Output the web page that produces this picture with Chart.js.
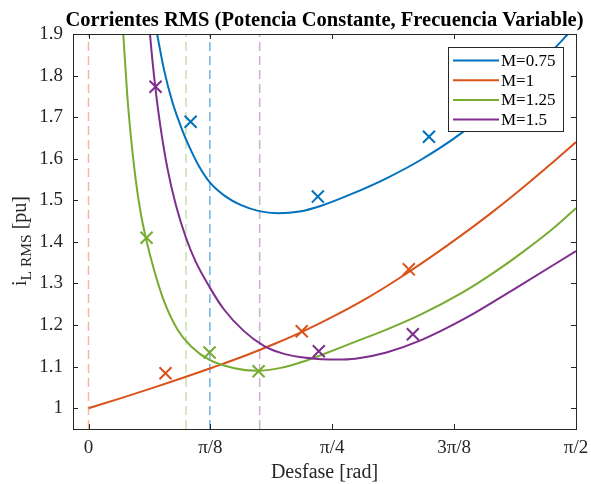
<!DOCTYPE html>
<html><head><meta charset="utf-8">
<script src="https://cdn.jsdelivr.net/npm/chart.js@4.4.0/dist/chart.umd.min.js"></script>
<style>html,body{margin:0;padding:0;background:#fff}</style>
</head><body>
<canvas id="c" width="591" height="484" style="width:591px;height:484px;display:block"></canvas>
<script>
// ---------- data ----------
const seriesLabels = ['M=0.75', 'M=1', 'M=1.25', 'M=1.5'];
const seriesColors = ['#0072BD', '#D95319', '#77AC30', '#7E2F8E'];

// curves (phase shift [rad], RMS current [pu])
const phiM075 = [0.221,0.243,0.270,0.302,0.334,0.356,0.391,0.44,0.49,0.55,0.61,0.68,0.75,0.85,0.96,1.07,1.206,1.30,1.40,1.506,1.545];
const iM075   = [1.900,1.815,1.737,1.669,1.614,1.582,1.543,1.510,1.489,1.474,1.469,1.473,1.487,1.516,1.553,1.597,1.664,1.723,1.792,1.869,1.900];

const phiM1 = [0,0.1,0.2,0.3,0.4,0.5,0.6,0.7,0.8,0.9,1.0,1.1,1.2,1.3,1.4,1.5,1.5708];
const iM1   = [1.000,1.023,1.047,1.072,1.098,1.125,1.155,1.188,1.225,1.266,1.312,1.362,1.415,1.471,1.531,1.594,1.640];

const phiM125 = [0.112,0.125,0.138,0.152,0.168,0.187,0.211,0.243,0.286,0.33,0.39,0.47,0.54,0.62,0.70,0.75,0.85,0.96,1.07,1.20,1.30,1.40,1.50,1.5708];
const iM125   = [1.900,1.751,1.642,1.550,1.470,1.402,1.333,1.258,1.190,1.149,1.116,1.096,1.090,1.097,1.114,1.128,1.157,1.189,1.225,1.276,1.323,1.376,1.434,1.481];

const phiM15 = [0.198,0.205,0.216,0.232,0.254,0.281,0.314,0.345,0.391,0.436,0.50,0.565,0.62,0.68,0.75,0.80,0.86,0.96,1.07,1.216,1.364,1.5708];
const iM15   = [1.900,1.843,1.767,1.676,1.578,1.490,1.410,1.353,1.290,1.238,1.186,1.150,1.133,1.123,1.118,1.117,1.119,1.134,1.163,1.217,1.283,1.378];

// measured points (x markers)
const mPhiM075 = [0.329, 0.739, 1.097];
const mIM075   = [1.689, 1.509, 1.653];
const mPhiM1 = [0.248, 0.687, 1.032];
const mIM1   = [1.084, 1.185, 1.334];
const mPhiM125 = [0.187, 0.390, 0.548];
const mIM125   = [1.410, 1.134, 1.089];
const mPhiM15 = [0.216, 0.742, 1.045];
const mIM15   = [1.773, 1.137, 1.178];

// vertical dashed reference lines (phase shift [rad]) : M=1, M=1.25, M=0.75, M=1.5
const dashPhi = [0, 0.314, 0.391, 0.5515];
const dashSeries = [1, 2, 0, 3];
const dashAlpha = [0.4, 0.4, 0.55, 0.38];

const xTickValues = [0, Math.PI/8, Math.PI/4, 3*Math.PI/8, Math.PI/2];
const xTickLabels = ['0', 'π/8', 'π/4', '3π/8', 'π/2'];
const yTickValues = [1, 1.1, 1.2, 1.3, 1.4, 1.5, 1.6, 1.7, 1.8, 1.9];
const yTickLabels = ['1', '1.1', '1.2', '1.3', '1.4', '1.5', '1.6', '1.7', '1.8', '1.9'];

const X_MIN = -0.05, X_MAX = Math.PI/2, Y_MIN = 0.95, Y_MAX = 1.9;

const titleText = 'Corrientes RMS (Potencia Constante, Frecuencia Variable)';
const xTitle = 'Desfase [rad]';
const yTitleMain = 'i', yTitleSub = 'L RMS', yTitleUnit = ' [pu]';

// ---------- build datasets ----------
const zip = (xs, ys) => xs.map((x, k) => ({x, y: ys[k]}));
const curveX = [phiM075, phiM1, phiM125, phiM15];
const curveY = [iM075, iM1, iM125, iM15];
const markX = [mPhiM075, mPhiM1, mPhiM125, mPhiM15];
const markY = [mIM075, mIM1, mIM125, mIM15];

function rgba(hex, a) {
  const n = parseInt(hex.slice(1), 16);
  return `rgba(${(n>>16)&255},${(n>>8)&255},${n&255},${a})`;
}

const datasets = [];
dashPhi.forEach((p, k) => {
  datasets.push({
    label: 'ref' + k, isRef: true,
    data: [{x: p, y: Y_MIN}, {x: p, y: Y_MAX}],
    showLine: true, borderColor: rgba(seriesColors[dashSeries[k]], dashAlpha[k]),
    borderWidth: 1.5, borderDash: [9, 5], pointRadius: 0, order: 10, clip: 0
  });
});
seriesLabels.forEach((lab, k) => {
  datasets.push({
    label: lab, isCurve: true,
    data: zip(curveX[k], curveY[k]),
    showLine: true, borderColor: seriesColors[k], backgroundColor: seriesColors[k],
    borderWidth: 2, pointRadius: 0, cubicInterpolationMode: 'monotone',
    order: 5 + (3 - k) * 0.1, clip: 0
  });
});
seriesLabels.forEach((lab, k) => {
  datasets.push({
    label: lab + ' pts', isMark: true,
    data: zip(markX[k], markY[k]),
    showLine: false, borderColor: seriesColors[k], backgroundColor: seriesColors[k],
    pointStyle: 'crossRot', pointRadius: 8.5, pointBorderWidth: 2, pointHoverRadius: 8.5,
    order: 1, clip: false
  });
});

const FONT = "'Liberation Serif', 'Times New Roman', serif";
const AXC = '#262626';

const decorPlugin = {
  id: 'decor',
  afterDatasetsDraw(chart) {
    const ctx = chart.ctx, a = chart.chartArea;
    const xs = chart.scales.x, ys = chart.scales.y;
    ctx.save();
    ctx.strokeStyle = AXC; ctx.lineWidth = 1;
    const TL = 5;
    ctx.beginPath();
    xTickValues.forEach(v => {
      const px = Math.round(xs.getPixelForValue(v)) + 0.5;
      ctx.moveTo(px, a.bottom); ctx.lineTo(px, a.bottom - TL);
      ctx.moveTo(px, a.top); ctx.lineTo(px, a.top + TL);
    });
    yTickValues.forEach(v => {
      const py = Math.round(ys.getPixelForValue(v)) + 0.5;
      ctx.moveTo(a.left, py); ctx.lineTo(a.left + TL, py);
      ctx.moveTo(a.right, py); ctx.lineTo(a.right - TL, py);
    });
    ctx.stroke();
    ctx.strokeRect(Math.round(a.left) + 0.5, Math.round(a.top) + 0.5,
                   Math.round(a.right - a.left), Math.round(a.bottom - a.top));

    // legend box
    const curves = chart.data.datasets.filter(d => d.isCurve);
    const lx = 448, ly = 47, lw = 115, lh = 84;
    ctx.fillStyle = '#fff';
    ctx.fillRect(lx, ly, lw, lh);
    ctx.strokeStyle = '#262626';
    ctx.lineWidth = 1;
    ctx.strokeRect(lx + 0.5, ly + 0.5, lw, lh);
    ctx.font = '17px ' + FONT;
    ctx.textBaseline = 'middle';
    ctx.textAlign = 'left';
    curves.forEach((d, k) => {
      const yy = ly + 13.5 + k * 19.7;
      ctx.strokeStyle = d.borderColor; ctx.lineWidth = 2;
      ctx.beginPath(); ctx.moveTo(lx + 5, yy); ctx.lineTo(lx + 51, yy); ctx.stroke();
      ctx.fillStyle = '#000';
      ctx.fillText(d.label, lx + 53, yy + 1);
    });
    ctx.restore();
  },
  afterDraw(chart) {
    const ctx = chart.ctx, a = chart.chartArea;
    const cx = (a.left + a.right) / 2;
    ctx.save();
    ctx.fillStyle = '#000';
    // title
    ctx.font = 'bold 20.5px ' + FONT;
    ctx.textAlign = 'center'; ctx.textBaseline = 'alphabetic';
    ctx.fillText(titleText, cx, 26);
    // x title
    ctx.font = '20px ' + FONT;
    ctx.fillStyle = AXC;
    ctx.fillText(xTitle, cx, 478);
    // y title (rotated, with subscript)
    ctx.translate(26, 241);
    ctx.rotate(-Math.PI / 2);
    const fMain = '20px ' + FONT, fSub = '15.5px ' + FONT;
    ctx.font = fMain; const w1 = ctx.measureText(yTitleMain).width;
    const w3 = ctx.measureText(yTitleUnit).width;
    ctx.font = fSub; const w2 = ctx.measureText(yTitleSub).width;
    let x0 = -(w1 + w2 + w3) / 2;
    ctx.textAlign = 'left';
    ctx.font = fMain; ctx.fillText(yTitleMain, x0, 0); x0 += w1;
    ctx.font = fSub; ctx.fillText(yTitleSub, x0, 5); x0 += w2;
    ctx.font = fMain; ctx.fillText(yTitleUnit, x0, 0);
    ctx.restore();
  }
};

new Chart(document.getElementById('c'), {
  type: 'scatter',
  data: { datasets },
  options: {
    responsive: false, animation: false, devicePixelRatio: 1,
    layout: { padding: { top: 34, right: 15, bottom: 0, left: 0 } },
    plugins: { legend: { display: false }, tooltip: { enabled: false }, title: { display: false } },
    scales: {
      x: {
        type: 'linear', min: X_MIN, max: X_MAX,
        afterBuildTicks: s => { s.ticks = xTickValues.map(v => ({value: v})); },
        afterFit: s => { s.height = 55; s.paddingLeft = 0; s.paddingRight = 0; },
        ticks: { callback: (v, i) => xTickLabels[i], font: { family: FONT, size: 19 }, color: AXC,
                 padding: 8, maxRotation: 0, autoSkip: false },
        grid: { display: false, drawTicks: false }, border: { display: false }
      },
      y: {
        type: 'linear', min: Y_MIN, max: Y_MAX,
        afterBuildTicks: s => { s.ticks = yTickValues.map(v => ({value: v})); },
        afterFit: s => { s.width = 73; s.paddingTop = 0; s.paddingBottom = 0; },
        ticks: { callback: (v, i) => yTickLabels[i], font: { family: FONT, size: 19 }, color: AXC,
                 padding: 10, autoSkip: false },
        grid: { display: false, drawTicks: false }, border: { display: false }
      }
    }
  },
  plugins: [decorPlugin]
});
</script>
</body></html>
